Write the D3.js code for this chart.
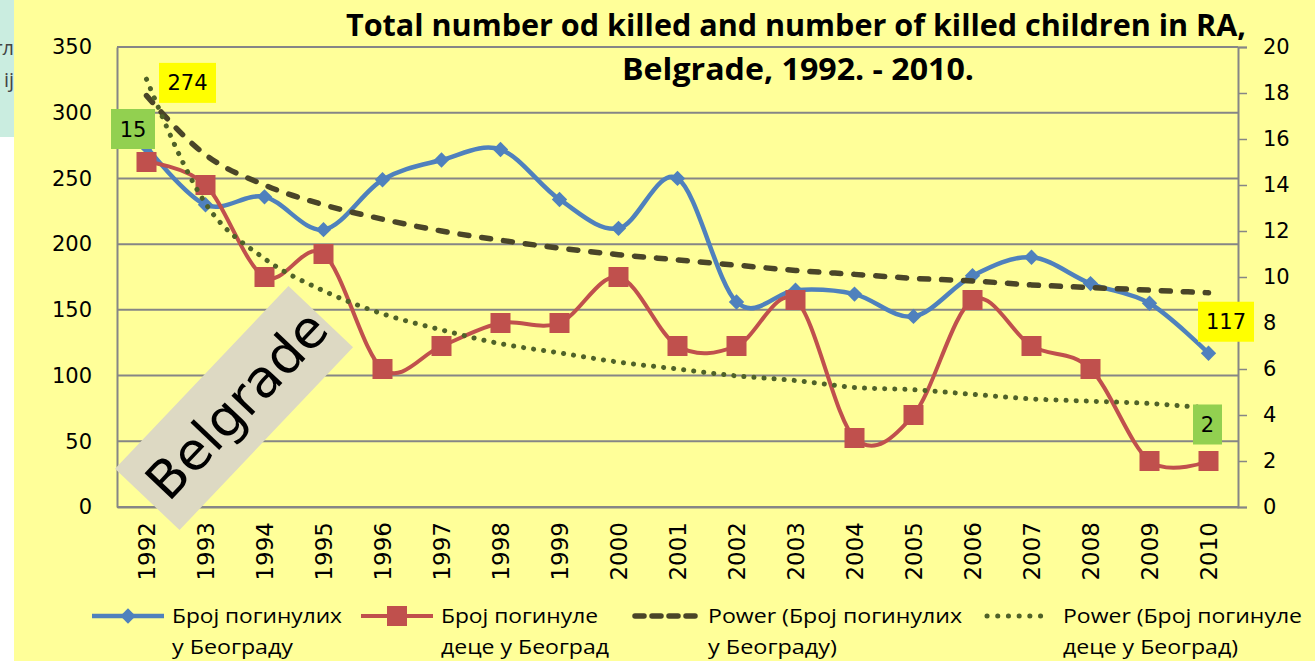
<!DOCTYPE html>
<html>
<head>
<meta charset="utf-8">
<script src="https://cdn.jsdelivr.net/npm/d3@7/dist/d3.min.js"></script>
<style>
  html, body { margin: 0; padding: 0; background: #fff; }
  svg { display: block; }
</style>
</head>
<body>
<div id="chart"></div>
<script>
// values
var years = ["1992", "1993", "1994", "1995", "1996", "1997", "1998", "1999", "2000", "2001",
             "2002", "2003", "2004", "2005", "2006", "2007", "2008", "2009", "2010"];
var killed = [274, 230, 236, 211, 249, 264, 272, 234, 212, 250, 156, 165, 162, 145, 176, 190, 170, 155, 117];
var killedChildren = [15, 14, 10, 11, 6, 7, 8, 8, 10, 7, 7, 9, 3, 4, 9, 7, 6, 2, 2];
// power trendlines as they appear in the picture
var killedTrend = [313, 268, 245, 230, 219, 210, 203, 197, 192, 188, 184, 180, 177, 174, 172, 169, 167, 165, 163];
var childrenTrend = [18.6, 13.2, 10.8, 9.4, 8.4, 7.7, 7.1, 6.7, 6.3, 6.0, 5.7, 5.5, 5.2, 5.1, 4.9, 4.7, 4.6, 4.5, 4.3];
var leftTicks = [0, 50, 100, 150, 200, 250, 300, 350];
var rightTicks = [0, 2, 4, 6, 8, 10, 12, 14, 16, 18, 20];
var titleLines = ["Total number od killed and number of killed children in RA,", "Belgrade, 1992. - 2010."];
var legendLabels = [
    ["Број погинулих", "у Београду"],
    ["Број погинуле", "деце у Београд"],
    ["Power (Број погинулих", "у Београду)"],
    ["Power (Број погинуле", "деце у Београд)"]
];

var width = 1315,
    height = 661;

var blue = "#4F81BD", red = "#C0504D", dark = "#4A4528", green = "#4F6228", grid = "#868686";

// plot area edges
var plotLeft = 117, plotRight = 1238, plotTop = 47, plotBottom = 507;

var svg = d3.select("#chart")
    .append("svg")
    .attr("width", width)
    .attr("height", height);

// slide background pieces
svg.append("rect").attr("x", 0).attr("y", 0).attr("width", width).attr("height", height).attr("fill", "#fff");
svg.append("rect").attr("x", 0).attr("y", 0).attr("width", 14).attr("height", 137).attr("fill", "#CAEDE0");
svg.append("clipPath").attr("id", "sliver").append("rect").attr("x", 0).attr("y", 0).attr("width", 14).attr("height", 137);
var sl = svg.append("g").attr("clip-path", "url(#sliver)")
    .style("font-family", "Open Sans, sans-serif").style("font-size", "20px").attr("fill", "#444");
sl.append("text").attr("x", 14).attr("y", 55).attr("text-anchor", "end").text("тл");
sl.append("text").attr("x", 14).attr("y", 87).attr("text-anchor", "end").text("ij");

svg.append("rect").attr("x", 14).attr("y", 0).attr("width", width - 14).attr("height", height).attr("fill", "#FFFF99");

var x = d3.scaleBand().domain(years).range([plotLeft, plotRight]);
var cx = function(d) { return x(d) + x.bandwidth() / 2; };
var yL = d3.scaleLinear().domain([0, 350]).range([plotBottom, plotTop]);
var yR = d3.scaleLinear().domain([0, 20]).range([plotBottom, plotTop]);

// gridlines
svg.append("g").selectAll("line")
    .data(leftTicks)
    .enter().append("line")
    .attr("x1", plotLeft).attr("x2", plotRight)
    .attr("y1", function(d) { return yL(d); })
    .attr("y2", function(d) { return yL(d); })
    .attr("stroke", grid).attr("stroke-width", 2);

// left axis
var axisL = svg.append("g")
    .attr("transform", "translate(" + plotLeft + ",0)")
    .call(d3.axisLeft(yL).tickValues(leftTicks).tickSize(0).tickPadding(25));
axisL.select(".domain").attr("stroke", grid).attr("stroke-width", 2);
axisL.selectAll("text").style("font-family", "DejaVu Sans, sans-serif").style("font-size", "21px").attr("fill", "#000");

// right axis
var axisR = svg.append("g")
    .attr("transform", "translate(" + plotRight + ",0)")
    .call(d3.axisRight(yR).tickValues(rightTicks).tickSize(9).tickPadding(16));
axisR.select(".domain").attr("stroke", grid).attr("stroke-width", 2);
axisR.selectAll("line").attr("stroke", grid).attr("stroke-width", 1.5);
axisR.selectAll("text").style("font-family", "DejaVu Sans, sans-serif").style("font-size", "21px").attr("fill", "#000");

// bottom axis
var axisB = svg.append("g")
    .attr("transform", "translate(0," + plotBottom + ")")
    .call(d3.axisBottom(x).tickSize(0).tickPadding(0));
axisB.select(".domain").attr("stroke", grid).attr("stroke-width", 2);
axisB.selectAll("text")
    .style("font-family", "DejaVu Sans, sans-serif").style("font-size", "23px").attr("fill", "#000")
    .attr("text-anchor", "end")
    .attr("y", 0)
    .attr("dy", "0.36em")
    .attr("transform", "translate(0,15) rotate(-90)");

// series lines
var smooth = d3.curveCardinal.tension(0);

var lineL = d3.line()
    .x(function(d, i) { return cx(years[i]); })
    .y(function(d) { return yL(d); });
var lineR = d3.line()
    .x(function(d, i) { return cx(years[i]); })
    .y(function(d) { return yR(d); });

svg.append("path")
    .datum(killed)
    .attr("d", lineL.curve(smooth))
    .attr("fill", "none").attr("stroke", blue).attr("stroke-width", 4.5);

svg.append("g").selectAll("path")
    .data(killed)
    .enter().append("path")
    .attr("d", d3.symbol().type(d3.symbolDiamond2).size(150))
    .attr("transform", function(d, i) { return "translate(" + cx(years[i]) + "," + yL(d) + ")"; })
    .attr("fill", blue);

svg.append("path")
    .datum(killedChildren)
    .attr("d", lineR.curve(smooth))
    .attr("fill", "none").attr("stroke", red).attr("stroke-width", 4);

svg.append("g").selectAll("rect")
    .data(killedChildren)
    .enter().append("rect")
    .attr("x", function(d, i) { return cx(years[i]) - 10; })
    .attr("y", function(d) { return yR(d) - 10; })
    .attr("width", 20).attr("height", 20)
    .attr("fill", red);

// trendlines
svg.append("path")
    .datum(killedTrend)
    .attr("d", lineL.curve(d3.curveMonotoneX))
    .attr("fill", "none").attr("stroke", dark).attr("stroke-width", 5.5)
    .attr("stroke-linecap", "round").attr("stroke-dasharray", "9,13");

svg.append("path")
    .datum(childrenTrend)
    .attr("d", lineR.curve(d3.curveMonotoneX))
    .attr("fill", "none").attr("stroke", green).attr("stroke-width", 5)
    .attr("stroke-linecap", "round").attr("stroke-dasharray", "0.1,10");

// data labels
var dataLabels = [
    {series: killed, scale: yL, i: 0, fill: "#FFFF00", w: 57, dx: 41, dy: -64},
    {series: killedChildren, scale: yR, i: 0, fill: "#92D050", w: 44, dx: -13.5, dy: -33},
    {series: killed, scale: yL, i: 18, fill: "#FFFF00", w: 56, dx: 17.5, dy: -31.5},
    {series: killedChildren, scale: yR, i: 18, fill: "#92D050", w: 29, dx: -1, dy: -36.5}
];
var lab = svg.append("g").selectAll("g")
    .data(dataLabels)
    .enter().append("g")
    .attr("transform", function(d) {
        return "translate(" + (cx(years[d.i]) + d.dx) + "," + (d.scale(d.series[d.i]) + d.dy) + ")";
    });
lab.append("rect")
    .attr("x", function(d) { return -d.w / 2; }).attr("y", -20)
    .attr("width", function(d) { return d.w; }).attr("height", 40)
    .attr("fill", function(d) { return d.fill; });
lab.append("text")
    .attr("text-anchor", "middle").attr("dy", "0.36em")
    .style("font-family", "DejaVu Sans, sans-serif").style("font-size", "21px")
    .text(function(d) { return d.series[d.i]; });

// "Belgrade" tag
var tag = svg.append("g").attr("transform", "translate(234,408) rotate(-46.5)");
tag.append("rect").attr("x", -126).attr("y", -44.5).attr("width", 252).attr("height", 89).attr("fill", "#DDD9C3");
tag.append("text")
    .attr("x", 4).attr("y", 18)
    .attr("text-anchor", "middle")
    .attr("textLength", 236).attr("lengthAdjust", "spacingAndGlyphs")
    .style("font-family", "DejaVu Sans, sans-serif").style("font-size", "52px")
    .text("Belgrade");

// title
svg.append("text")
    .attr("x", 796).attr("y", 36).attr("text-anchor", "middle")
    .attr("textLength", 900).attr("lengthAdjust", "spacingAndGlyphs")
    .style("font-family", "Open Sans, sans-serif").style("font-size", "31px").style("font-weight", "bold")
    .text(titleLines[0]);
svg.append("text")
    .attr("x", 798).attr("y", 80).attr("text-anchor", "middle")
    .attr("textLength", 352).attr("lengthAdjust", "spacingAndGlyphs")
    .style("font-family", "Open Sans, sans-serif").style("font-size", "31px").style("font-weight", "bold")
    .text(titleLines[1]);

// legend
var legendItems = [
    {x: 92, textX: 172, w1: 170, w2: 121},
    {x: 361, textX: 441, w1: 157, w2: 168},
    {x: 632, textX: 708, w1: 254, w2: 129},
    {x: 985, textX: 1063, w1: 239, w2: 175}
];
var leg = svg.append("g").selectAll("g")
    .data(legendItems)
    .enter().append("g");

leg.each(function(d, i) {
    var g = d3.select(this);
    var ly = 616;
    if (i === 0) {
        g.append("line").attr("x1", d.x).attr("x2", d.x + 72).attr("y1", ly).attr("y2", ly)
            .attr("stroke", blue).attr("stroke-width", 4.5);
        g.append("path").attr("d", d3.symbol().type(d3.symbolDiamond2).size(150))
            .attr("transform", "translate(" + (d.x + 36) + "," + ly + ")").attr("fill", blue);
    } else if (i === 1) {
        g.append("line").attr("x1", d.x).attr("x2", d.x + 72).attr("y1", ly).attr("y2", ly)
            .attr("stroke", red).attr("stroke-width", 4);
        g.append("rect").attr("x", d.x + 26).attr("y", ly - 10).attr("width", 20).attr("height", 20).attr("fill", red);
    } else if (i === 2) {
        g.append("line").attr("x1", d.x + 3).attr("x2", d.x + 66).attr("y1", ly).attr("y2", ly)
            .attr("stroke", dark).attr("stroke-width", 5.5)
            .attr("stroke-linecap", "round").attr("stroke-dasharray", "9,8");
    } else {
        g.append("line").attr("x1", d.x + 2).attr("x2", d.x + 66).attr("y1", ly).attr("y2", ly)
            .attr("stroke", green).attr("stroke-width", 5)
            .attr("stroke-linecap", "round").attr("stroke-dasharray", "0.1,10.6");
    }
    g.append("text")
        .attr("x", d.textX).attr("y", ly).attr("dy", "0.36em")
        .attr("textLength", d.w1).attr("lengthAdjust", "spacingAndGlyphs")
        .style("font-family", "Open Sans, sans-serif").style("font-size", "20px")
        .text(legendLabels[i][0]);
    g.append("text")
        .attr("x", d.textX).attr("y", ly + 31).attr("dy", "0.36em")
        .attr("textLength", d.w2).attr("lengthAdjust", "spacingAndGlyphs")
        .style("font-family", "Open Sans, sans-serif").style("font-size", "20px")
        .text(legendLabels[i][1]);
});
</script>
</body>
</html>
